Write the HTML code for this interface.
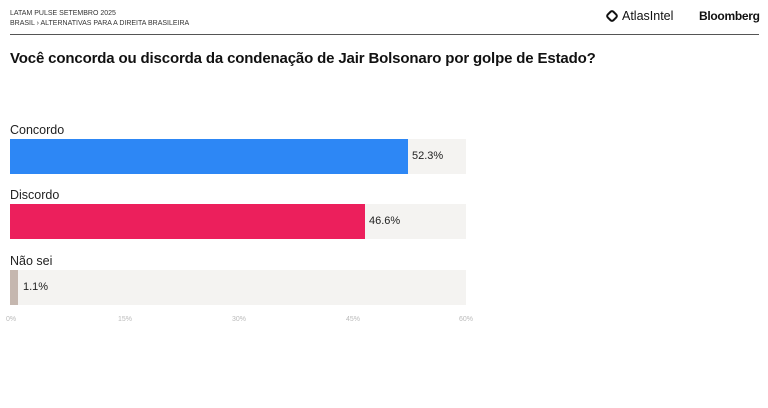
<!DOCTYPE html>
<html><head><style>
body{margin:0;width:768px;height:408px;background:#fff;font-family:"Liberation Sans",sans-serif;position:relative;overflow:hidden;color:#111}
.a{position:absolute}
.trk{position:absolute;left:10px;width:456px;height:35px;background:#f4f3f1}
.bar{position:absolute;left:0;top:0;height:35px}
.lab{position:absolute;left:10px;font-size:12.5px;color:#222}
.val{position:absolute;top:11px;font-size:11px;color:#222}
.tk{position:absolute;top:316px;font-size:7px;color:#bbb}
</style></head><body>
<div class="a" style="left:10px;top:9px;font-size:7px;line-height:10px;color:#333">LATAM PULSE SETEMBRO 2025<br>BRASIL › ALTERNATIVAS PARA A DIREITA BRASILEIRA</div>
<div class="a" style="left:607px;top:9px;font-size:12.5px;color:#111;display:flex;align-items:center"><span style="display:inline-block;width:10px;height:10px;border:2.5px solid #111;transform:rotate(45deg);border-radius:3px;margin-right:5px;box-sizing:border-box"></span>AtlasIntel</div>
<div class="a" style="left:699px;top:9px;font-size:12px;font-weight:bold;color:#111;letter-spacing:-0.3px">Bloomberg</div>
<div class="a" style="left:10px;top:34px;width:749px;height:1px;background:#555"></div>
<div class="a" style="left:10px;top:50px;font-size:15px;font-weight:bold;color:#111;letter-spacing:-0.15px">Você concorda ou discorda da condenação de Jair Bolsonaro por golpe de Estado?</div>
<div class="lab" style="top:123px">Concordo</div>
<div class="trk" style="top:139px"><div class="bar" style="width:398px;background:#2d87f5"></div><div class="val" style="left:402px">52.3%</div></div>
<div class="lab" style="top:188px">Discordo</div>
<div class="trk" style="top:204px"><div class="bar" style="width:355px;background:#ec1f5c"></div><div class="val" style="left:359px">46.6%</div></div>
<div class="lab" style="top:254px">Não sei</div>
<div class="trk" style="top:270px"><div class="bar" style="width:8px;background:#c5b7af"></div><div class="val" style="left:13px">1.1%</div></div>
<div class="tk" style="left:6px">0%</div>
<div class="tk" style="left:118px">15%</div>
<div class="tk" style="left:232px">30%</div>
<div class="tk" style="left:346px">45%</div>
<div class="tk" style="left:459px">60%</div>
</body></html>
